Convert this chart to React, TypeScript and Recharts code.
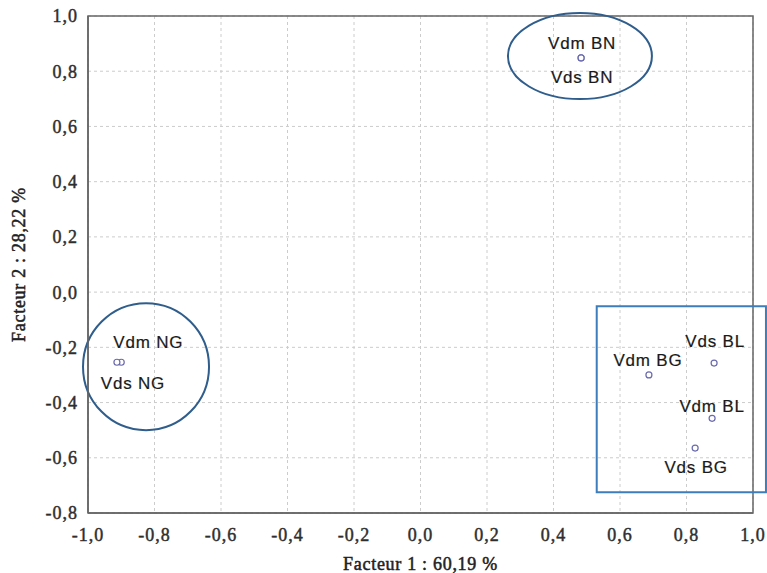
import React from 'react';
import { ScatterChart, Scatter, XAxis, YAxis, CartesianGrid, ReferenceArea } from 'recharts';

// Data
const pointNames = ['Vdm BN', 'Vds BN', 'Vdm NG', 'Vds NG', 'Vds BL', 'Vdm BG', 'Vdm BL', 'Vds BG'];
const factor1 = [0.483, 0.483, -0.9, -0.913, 0.883, 0.687, 0.877, 0.826];
const factor2 = [0.848, 0.848, -0.254, -0.254, -0.257, -0.3, -0.457, -0.565];

const xTicks = [-1, -0.8, -0.6, -0.4, -0.2, 0, 0.2, 0.4, 0.6, 0.8, 1];
const yTicks = [-0.8, -0.6, -0.4, -0.2, 0, 0.2, 0.4, 0.6, 0.8, 1];

// Group outlines (data extents)
const ellipseX1 = [0.263, -1.015];
const ellipseX2 = [0.696, -0.636];
const ellipseY1 = [0.699, -0.5];
const ellipseY2 = [1.011, -0.04];
const boxX1 = 0.53;
const boxX2 = 1.039;
const boxY1 = -0.725;
const boxY2 = -0.051;

// Label placement (pixel offsets from each point)
const labelOffsets: Record<string, [number, number]> = {
  'Vdm BN': [1, -14],
  'Vds BN': [1, 20],
  'Vdm NG': [27, -20],
  'Vds NG': [16, 21],
  'Vds BL': [1, -22],
  'Vdm BG': [-1, -14],
  'Vdm BL': [0, -12],
  'Vds BG': [1, 19],
};

const data = pointNames.map((name, i) => ({ name, x: factor1[i], y: factor2[i] }));

const fmt = (v: number) => v.toFixed(1).replace('.', ',');

const PointShape = (props: any) => {
  const { cx, cy, payload } = props;
  const [dx, dy] = labelOffsets[payload.name] || [0, 0];
  return (
    <g>
      <circle cx={cx} cy={cy} r={3} fill="#fff" stroke="#6a6aae" strokeWidth={1.2} />
      <text
        x={cx + dx}
        y={cy + dy}
        textAnchor="middle"
        dominantBaseline="central"
        fontFamily="'Liberation Sans', Arial, sans-serif"
        fontSize={17}
        letterSpacing={0.8}
        fill="#1a1a1a"
        stroke="#1a1a1a"
        strokeWidth={0.2}
      >
        {payload.name}
      </text>
    </g>
  );
};

const EllipseShape = (props: any) => {
  const { x, y, width, height } = props;
  return (
    <ellipse
      cx={x + width / 2}
      cy={y + height / 2}
      rx={Math.abs(width / 2)}
      ry={Math.abs(height / 2)}
      fill="none"
      stroke="#2f5d8c"
      strokeWidth={2}
    />
  );
};

const tickStyle = {
  fontFamily: "'Liberation Serif', 'Times New Roman', serif",
  fontSize: 18,
  fill: '#2e2e2e',
  stroke: '#2e2e2e',
  strokeWidth: 0.45,
  letterSpacing: 1,
};

const titleStyle = {
  fontFamily: "'Liberation Serif', 'Times New Roman', serif",
  fontSize: 18,
  fill: '#222',
  stroke: '#222',
  strokeWidth: 0.5,
  letterSpacing: 0.7,
  textAnchor: 'middle' as const,
};

export default function App() {
  return (
    <div style={{ position: 'absolute', left: 0, top: 0, width: 767, height: 573, background: '#fff' }}>
      <ScatterChart width={767} height={573} margin={{ top: 16, right: 14, bottom: 0, left: 0 }}>
        <CartesianGrid stroke="#cccccc" strokeDasharray="3 3" />
        <XAxis
          type="number"
          dataKey="x"
          domain={[-1, 1]}
          ticks={xTicks}
          tickFormatter={fmt}
          allowDataOverflow
          height={60}
          tickSize={0}
          tickMargin={15}
          stroke="#555"
          tick={tickStyle}
          axisLine={{ stroke: '#666', strokeWidth: 1.5 }}
          label={{
            value: 'Facteur 1 : 60,19 %',
            position: 'insideBottom',
            offset: 3,
            style: titleStyle,
          }}
        />
        <YAxis
          type="number"
          dataKey="y"
          domain={[-0.8, 1]}
          ticks={yTicks}
          tickFormatter={fmt}
          allowDataOverflow
          width={88}
          tickSize={0}
          tickMargin={10}
          stroke="#555"
          tick={tickStyle}
          axisLine={{ stroke: '#666', strokeWidth: 1.5 }}
          label={{
            value: 'Facteur 2 : 28,22 %',
            angle: -90,
            position: 'insideLeft',
            offset: 19,
            style: titleStyle,
          }}
        />
        <ReferenceArea
          x1={-1}
          x2={1}
          y1={-0.8}
          y2={1}
          fill="none"
          stroke="#666"
          strokeWidth={1.5}
          ifOverflow="visible"
        />
        {ellipseX1.map((x1, i) => (
          <ReferenceArea
            key={i}
            x1={x1}
            x2={ellipseX2[i]}
            y1={ellipseY1[i]}
            y2={ellipseY2[i]}
            ifOverflow="visible"
            shape={EllipseShape}
          />
        ))}
        <ReferenceArea
          x1={boxX1}
          x2={boxX2}
          y1={boxY1}
          y2={boxY2}
          fill="none"
          stroke="#3d7dbb"
          strokeWidth={2}
          ifOverflow="visible"
        />
        <Scatter data={data} isAnimationActive={false} shape={PointShape} />
      </ScatterChart>
    </div>
  );
}
